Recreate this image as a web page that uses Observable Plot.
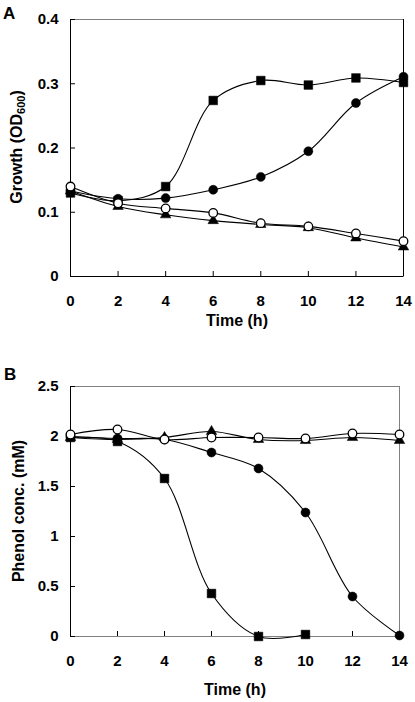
<!DOCTYPE html>
<html>
<head>
<meta charset="utf-8">
<script src="https://cdn.jsdelivr.net/npm/d3@7"></script>
<script src="https://cdn.jsdelivr.net/npm/@observablehq/plot@0.6"></script>
<style>
  html, body { margin: 0; padding: 0; background: #fff; }
  #wrap { position: relative; width: 415px; height: 702px; font-family: "Liberation Sans", Arial, sans-serif; }
  .panel { position: absolute; left: 0; }
  .letter { position: absolute; font-weight: bold; font-size: 17px; line-height: 1; }
  svg { display: block; }
</style>
</head>
<body>
<div id="wrap">
  <div class="panel" id="pa" style="top:0"></div>
  <div class="panel" id="pb" style="top:351px"></div>
  <div class="letter" style="left:3px;top:5px">A</div>
  <div class="letter" style="left:4px;top:366px">B</div>
</div>
<script>
// ---- data ----
const time = [0, 2, 4, 6, 8, 10, 12, 14];
const timeB_square = [0, 2, 4, 6, 8, 10];

const xTicks = [0, 2, 4, 6, 8, 10, 12, 14];
const xDomain = [0, 14];

// Panel A: Growth (OD600)
const growthSquare   = [0.130, 0.118, 0.140, 0.274, 0.305, 0.298, 0.309, 0.302];
const growthCircle   = [0.133, 0.121, 0.122, 0.135, 0.155, 0.195, 0.270, 0.311];
const growthOpen     = [0.140, 0.114, 0.106, 0.099, 0.083, 0.078, 0.067, 0.055];
const growthTriangle = [0.133, 0.109, 0.096, 0.087, 0.081, 0.076, 0.060, 0.046];
const yTicksA = [0, 0.1, 0.2, 0.3, 0.4];
const yDomainA = [0, 0.4];

// Panel B: Phenol conc. (mM)
const phenolSquare   = [1.99, 1.95, 1.58, 0.43, 0.00, 0.02];
const phenolCircle   = [2.00, 1.98, 1.97, 1.84, 1.68, 1.24, 0.40, 0.01];
const phenolOpen     = [2.02, 2.07, 1.97, 1.99, 1.99, 1.98, 2.03, 2.02];
const phenolTriangle = [1.99, 1.97, 1.99, 2.05, 1.97, 1.96, 1.99, 1.96];
const yTicksB = [0, 0.5, 1, 1.5, 2, 2.5];
const yDomainB = [0, 2.5];

const xTitle = "Time (h)";
const yTitleB = "Phenol conc. (mM)";

// ---- helpers ----
const rows = (ts, vs) => ts.map((t, i) => ({t, v: vs[i]}));
const FONT = "'Liberation Sans', Arial, sans-serif";

function seriesMarks(sq, ci, op, tr) {
  const line = (d) => Plot.line(d, {x: "t", y: "v", curve: "catmull-rom", stroke: "black", strokeWidth: 1.1});
  return [
    line(tr), line(op), line(sq), line(ci),
    Plot.dot(tr, {x: "t", y: "v", symbol: "triangle", r: 3.9, fill: "black", stroke: "black", strokeWidth: 0.5}),
    Plot.dot(sq, {x: "t", y: "v", symbol: "square", r: 4.9, fill: "black", stroke: "black", strokeWidth: 0.5}),
    Plot.dot(ci, {x: "t", y: "v", symbol: "circle", r: 4.5, fill: "black", stroke: "black", strokeWidth: 0.5}),
    Plot.dot(op, {x: "t", y: "v", symbol: "circle", r: 4.3, fill: "white", stroke: "black", strokeWidth: 1.3})
  ];
}

function axes(yTicks, yFmt, bottomColor, rightColor, titleDy) {
  return [
    Plot.frame({stroke: "#808080"}),
    Plot.ruleX([xDomain[0]], {stroke: "black"}),
    Plot.ruleX([xDomain[1]], {stroke: rightColor}),
    Plot.ruleY([0], {stroke: bottomColor}),
    Plot.axisX({ticks: xTicks, tickSize: -5, tickPadding: 24, tickFormat: d => String(d), label: null,
                fontSize: 15, fontWeight: "bold", stroke: "black"}),
    Plot.axisY({ticks: yTicks, tickSize: -5, tickPadding: 17, tickFormat: yFmt, label: null,
                fontSize: 15, fontWeight: "bold", stroke: "black"}),
    Plot.text([xTitle], {text: d => d, frameAnchor: "bottom", lineAnchor: "middle", dy: titleDy,
                         fontSize: 16, fontWeight: "bold", fill: "black"})
  ];
}

function addYTitle(svgNode, cx, cy, parts) {
  const t = d3.select(svgNode).append("text")
    .attr("transform", `translate(${cx},${cy}) rotate(-90)`)
    .attr("text-anchor", "middle")
    .attr("dy", "0.35em")
    .attr("font-family", FONT)
    .attr("font-size", 16)
    .attr("font-weight", "bold")
    .attr("fill", "black");
  parts.forEach(p => {
    const s = t.append("tspan").text(p.text);
    if (p.sub) s.attr("font-size", 11).attr("dy", "0.35em");
    if (p.after) s.attr("dy", "-0.24em");
  });
}

const fmtA = d => d === 0 ? "0" : d.toFixed(1);
const fmtB = d => String(d);

// ---- Panel A ----
const plotA = Plot.plot({
  width: 415, height: 351,
  marginLeft: 70, marginRight: 12, marginTop: 19, marginBottom: 75,
  style: {fontFamily: FONT, background: "white", color: "black", overflow: "visible"},
  x: {domain: xDomain},
  y: {domain: yDomainA},
  marks: [
    ...axes(yTicksA, fmtA, "black", "black", 44),
    ...seriesMarks(rows(time, growthSquare), rows(time, growthCircle), rows(time, growthOpen), rows(time, growthTriangle))
  ]
});
document.getElementById("pa").appendChild(plotA);
addYTitle(plotA, 16, 147, [{text: "Growth (OD"}, {text: "600", sub: true}, {text: ")", after: true}]);

// ---- Panel B ----
const plotB = Plot.plot({
  width: 415, height: 351,
  marginLeft: 70, marginRight: 16, marginTop: 35, marginBottom: 66,
  style: {fontFamily: FONT, background: "white", color: "black", overflow: "visible"},
  x: {domain: xDomain},
  y: {domain: yDomainB},
  marks: [
    ...axes(yTicksB, fmtB, "#808080", "#808080", 53),
    ...seriesMarks(rows(timeB_square, phenolSquare), rows(time, phenolCircle), rows(time, phenolOpen), rows(time, phenolTriangle))
  ]
});
document.getElementById("pb").appendChild(plotB);
addYTitle(plotB, 18, 160, [{text: yTitleB}]);
</script>
</body>
</html>
